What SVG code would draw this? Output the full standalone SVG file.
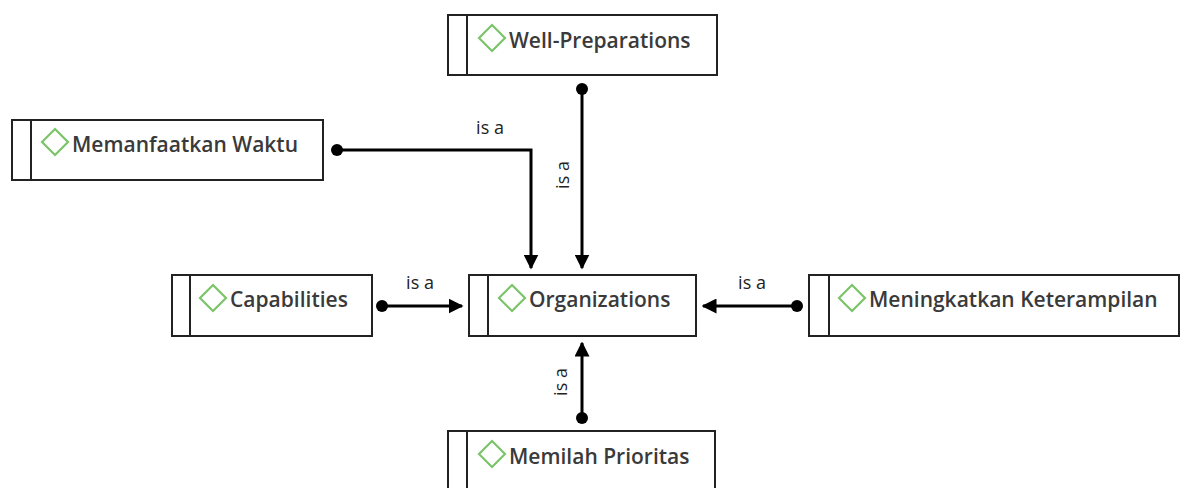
<svg xmlns="http://www.w3.org/2000/svg" width="1180" height="488" viewBox="0 0 1180 488">
<style>
.box{fill:#fff;stroke:#222;stroke-width:2}
.bar{stroke:#222;stroke-width:2}
.dia{fill:none;stroke:#7cc46a;stroke-width:2.2}
.t{font-family:"Open Sans","Noto Sans",sans-serif;font-size:21px;font-weight:600;fill:#3a3a3a}
.l{font-family:"Open Sans","Noto Sans",sans-serif;font-size:18px;fill:#222}
.c{fill:none;stroke:#000;stroke-width:3}
</style>
<defs>
<marker id="arr" viewBox="0 0 10 10" refX="9" refY="5" markerWidth="5" markerHeight="5" orient="auto" markerUnits="strokeWidth"><path d="M0,0L10,5L0,10z" fill="#000"/></marker>
<marker id="dot" viewBox="0 0 10 10" refX="5" refY="5" markerWidth="4" markerHeight="4" markerUnits="strokeWidth"><circle cx="5" cy="5" r="5" fill="#000"/></marker>
</defs>
<g id="connectors">
<path class="c" d="M337,150H531V268" marker-start="url(#dot)" marker-end="url(#arr)"/>
<text class="l" x="490" y="134" text-anchor="middle">is a</text>
<path class="c" d="M582,89V268" marker-start="url(#dot)" marker-end="url(#arr)"/>
<text class="l" transform="translate(569,175) rotate(-90)" text-anchor="middle">is a</text>
<path class="c" d="M382,306H462" marker-start="url(#dot)" marker-end="url(#arr)"/>
<text class="l" x="420" y="289" text-anchor="middle">is a</text>
<path class="c" d="M797,306H703" marker-start="url(#dot)" marker-end="url(#arr)"/>
<text class="l" x="752" y="289" text-anchor="middle">is a</text>
<path class="c" d="M582,418V343" marker-start="url(#dot)" marker-end="url(#arr)"/>
<text class="l" transform="translate(567,382) rotate(-90)" text-anchor="middle">is a</text>
</g>
<g id="well-preparations">
<rect class="box" x="448" y="15" width="269" height="60"/>
<line class="bar" x1="467" y1="15" x2="467" y2="75"/>
<path class="dia" d="M492,25L505,38L492,51L479,38Z"/>
<text class="t" x="509" y="48">Well-Preparations</text>
</g>
<g id="memanfaatkan-waktu">
<rect class="box" x="12" y="120" width="311" height="60"/>
<line class="bar" x1="31" y1="120" x2="31" y2="180"/>
<path class="dia" d="M55,129L68,142L55,155L42,142Z"/>
<text class="t" x="72" y="152">Memanfaatkan Waktu</text>
</g>
<g id="capabilities">
<rect class="box" x="172" y="275" width="200" height="61"/>
<line class="bar" x1="190" y1="275" x2="190" y2="336"/>
<path class="dia" d="M213,285L226,298L213,311L200,298Z"/>
<text class="t" x="230" y="307">Capabilities</text>
</g>
<g id="organizations">
<rect class="box" x="469" y="275" width="227" height="61"/>
<line class="bar" x1="488" y1="275" x2="488" y2="336"/>
<path class="dia" d="M512,285L525,298L512,311L499,298Z"/>
<text class="t" x="529" y="307">Organizations</text>
</g>
<g id="meningkatkan-keterampilan">
<rect class="box" x="809" y="275" width="370" height="61"/>
<line class="bar" x1="829" y1="275" x2="829" y2="336"/>
<path class="dia" d="M852,285L865,298L852,311L839,298Z"/>
<text class="t" x="869" y="307">Meningkatkan Keterampilan</text>
</g>
<g id="memilah-prioritas">
<rect class="box" x="448" y="431" width="267" height="70"/>
<line class="bar" x1="467" y1="431" x2="467" y2="490"/>
<path class="dia" d="M492,441L505,454L492,467L479,454Z"/>
<text class="t" x="509" y="464">Memilah Prioritas</text>
</g>
</svg>
